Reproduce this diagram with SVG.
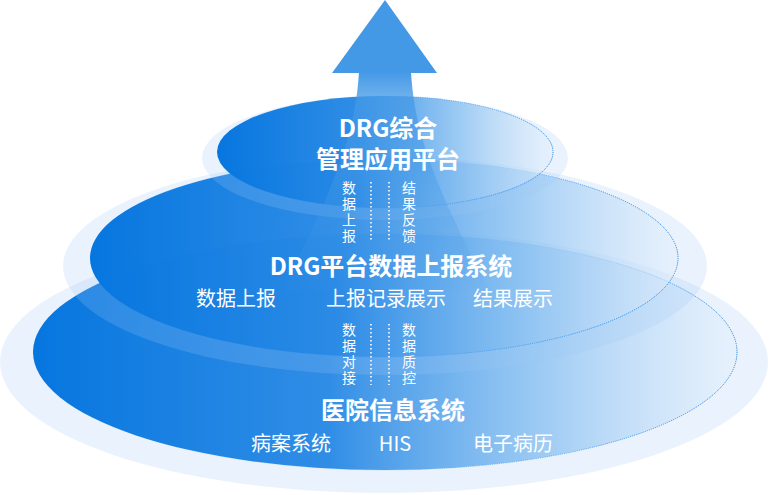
<svg xmlns="http://www.w3.org/2000/svg" width="769" height="495" viewBox="0 0 769 495">
  <defs>
    <linearGradient id="fillG" x1="0" y1="0" x2="1" y2="0">
      <stop offset="0" stop-color="#0676df" stop-opacity="1"/>
      <stop offset="0.42" stop-color="#2a8ae5" stop-opacity="0.97"/>
      <stop offset="0.72" stop-color="#86bff1" stop-opacity="0.78"/>
      <stop offset="1" stop-color="#e4effc" stop-opacity="0.5"/>
    </linearGradient>
    <linearGradient id="strokeG" x1="0" y1="0" x2="1" y2="0">
      <stop offset="0" stop-color="#1f86e6" stop-opacity="0"/>
      <stop offset="0.55" stop-color="#1f86e6" stop-opacity="0.3"/>
      <stop offset="1" stop-color="#1f86e6" stop-opacity="1"/>
    </linearGradient>
    <linearGradient id="shaftG" x1="0" y1="72" x2="0" y2="300" gradientUnits="userSpaceOnUse">
      <stop offset="0" stop-color="#4499e6" stop-opacity="1"/>
      <stop offset="0.12" stop-color="#4499e6" stop-opacity="0.75"/>
      <stop offset="0.55" stop-color="#4499e6" stop-opacity="0.35"/>
      <stop offset="1" stop-color="#4499e6" stop-opacity="0"/>
    </linearGradient>
    <style>
      .glow { fill: #9ecaf4; fill-opacity: 0.22; }
      .layer { fill: url(#fillG); stroke: url(#strokeG); stroke-width: 1; stroke-dasharray: 1.2 1; }
      .title { font-family: "Noto Sans CJK SC", "Noto Sans", sans-serif; font-weight: 700; font-size: 24px; fill: #ffffff; text-anchor: middle; }
      .sub { font-family: "Noto Sans CJK SC", "Noto Sans", sans-serif; font-weight: 400; font-size: 20px; fill: #ffffff; text-anchor: middle; }
      .vt { font-family: "Noto Sans CJK SC", "Noto Sans", sans-serif; font-weight: 400; font-size: 14px; fill: #ffffff; writing-mode: vertical-rl; letter-spacing: 2px; }
      .dot { stroke: #ffffff; stroke-width: 1.6; stroke-dasharray: 1.6 2.4; fill: none; }
    </style>
  </defs>

  <g id="layer-hospital">
    <ellipse class="glow" cx="384" cy="362" rx="384" ry="131"/>
    <ellipse class="layer" cx="385" cy="352" rx="352" ry="118"/>
  </g>
  <g id="layer-report">
    <ellipse class="glow" cx="385" cy="266" rx="322" ry="109"/>
    <ellipse class="layer" cx="384" cy="258" rx="294" ry="99"/>
  </g>
  <g id="layer-platform">
    <ellipse class="glow" cx="385" cy="158" rx="183" ry="62"/>
    <ellipse class="layer" cx="385" cy="152" rx="168" ry="56"/>
  </g>

  <g id="arrow">
    <path d="M359,72 C356,120 345,170 282,290 L490,290 C425,170 414,120 411,72 Z" fill="url(#shaftG)"/>
    <polygon points="385,0 437,73 332,73" fill="#4499e6"/>
  </g>

  <g id="connectors">
    <line class="dot" x1="371" y1="182" x2="371" y2="242"/>
    <line class="dot" x1="389" y1="182" x2="389" y2="242"/>
    <line class="dot" x1="371" y1="324" x2="371" y2="385"/>
    <line class="dot" x1="389" y1="324" x2="389" y2="385"/>
  </g>

  <g id="text-platform">
    <text class="title" x="388" y="137">DRG综合<tspan x="388" dy="31">管理应用平台</tspan></text>
  </g>
  <g id="text-up1">
    <text class="vt" x="349" y="181">数据上报</text>
  </g>
  <g id="text-down1">
    <text class="vt" x="409" y="181">结果反馈</text>
  </g>
  <g id="text-report">
    <text class="title" x="391" y="275">DRG平台数据上报系统</text>
    <text class="sub" x="236" y="306">数据上报</text>
    <text class="sub" x="386" y="306">上报记录展示</text>
    <text class="sub" x="513" y="306">结果展示</text>
  </g>
  <g id="text-up2">
    <text class="vt" x="349" y="323">数据对接</text>
  </g>
  <g id="text-down2">
    <text class="vt" x="409" y="323">数据质控</text>
  </g>
  <g id="text-hospital">
    <text class="title" x="393" y="419">医院信息系统</text>
    <text class="sub" x="291" y="451">病案系统</text>
    <text class="sub" x="395" y="451">HIS</text>
    <text class="sub" x="513" y="451">电子病历</text>
  </g>
</svg>
